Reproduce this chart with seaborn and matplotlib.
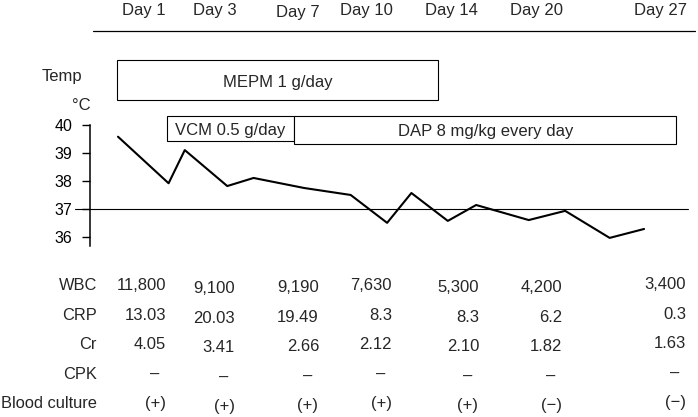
import matplotlib
matplotlib.use("Agg")
import matplotlib.pyplot as plt
import matplotlib.transforms as mtransforms
from matplotlib.patches import Rectangle
from matplotlib.lines import Line2D
import seaborn as sns

# body temperature course (hospital day, deg C)
temp_day = [1.0, 3.5, 4.3, 6.4, 7.7, 10.2, 12.5, 14.3, 15.5, 17.3, 18.7, 21.3, 23.1, 25.3, 27.0]
temp_c = [39.58, 37.91, 39.10, 37.81, 38.10, 37.74, 37.49, 36.49, 37.56, 36.56, 37.13, 36.59, 36.92, 35.95, 36.27]

# antibiotics given (start / end day)
drug_names = ["MEPM 1 g/day", "VCM 0.5 g/day", "DAP 8 mg/kg every day"]
drug_start = [0.97, 3.4, 9.7]
drug_end = [16.8, 9.7, 28.6]

# lab table
days = ["Day 1", "Day 3", "Day 7", "Day 10", "Day 14", "Day 20", "Day 27"]
lab_rows = ["WBC", "CRP", "Cr", "CPK", "Blood culture"]
wbc = ["11,800", "9,100", "9,190", "7,630", "5,300", "4,200", "3,400"]
crp = ["13.03", "20.03", "19.49", "8.3", "8.3", "6.2", "0.3"]
cr = ["4.05", "3.41", "2.66", "2.12", "2.10", "1.82", "1.63"]
cpk = ["\u2013"] * 7
blood = ["(+)", "(+)", "(+)", "(+)", "(+)", "(\u2212)", "(\u2212)"]
lab_values = [wbc, crp, cr, cpk, blood]

sns.set_theme(style="white")
plt.rcParams["font.family"] = ["Liberation Sans", "DejaVu Sans"]
FS = 12

W, H = 698, 417
def fx(px):
    return px / W
def fy(py):
    return 1 - py / H

fig = plt.figure(figsize=(W / 100, H / 100), dpi=100)
fig.patch.set_facecolor("white")

# temperature panel
ax = fig.add_axes([fx(90), fy(245.7), 600 / W, 120.7 / H])
ax.patch.set_visible(False)
sns.lineplot(x=temp_day, y=temp_c, color="black", linewidth=1.5, ax=ax)
ax.set_xlim(-0.384, 29.27)
ax.set_ylim(35.67, 40)
ax.set_yticks([36, 37, 38, 39, 40])
ax.set_xticks([])
ax.set_xlabel("")
ax.set_ylabel("")
for s in ["top", "right", "bottom"]:
    ax.spines[s].set_visible(False)
ax.spines["left"].set_color("black")
ax.spines["left"].set_linewidth(1.1)
ax.tick_params(axis="y", left=True, direction="out", length=5.8, width=1.0,
               color="black", pad=6.7, labelsize=11.5, labelcolor="black")
ax.axhline(37, xmin=-0.025, xmax=0.997, color="black", linewidth=0.8, clip_on=False)

# drug boxes: x in days, y in figure
trans = mtransforms.blended_transform_factory(ax.transData, fig.transFigure)
box_top = [60, 115.7, 115.7]
box_bottom = [100, 141, 144]
text_mid = [82.5, 130, 131.5]
for name, s, e, t, b, m in zip(drug_names, drug_start, drug_end, box_top, box_bottom, text_mid):
    ax.add_patch(Rectangle((s, fy(b)), e - s, fy(t) - fy(b), transform=trans,
                           facecolor="white", edgecolor="black", linewidth=0.8,
                           clip_on=False, zorder=3))
    ax.text((s + e) / 2, fy(m), name, transform=trans, ha="center", va="center",
            fontsize=FS, zorder=4)

fig.text(fx(62), fy(76), "Temp", ha="center", va="center", fontsize=FS)
fig.text(fx(81), fy(105), "\u00b0C", ha="center", va="center", fontsize=FS)

# header with days
day_x = [144, 215, 298, 366, 451, 536, 660]
day_base = [15, 15, 17, 15, 15, 15, 15]
for d, x, b in zip(days, day_x, day_base):
    fig.text(fx(x), fy(b), d, ha="center", va="baseline", fontsize=FS)
fig.add_artist(Line2D([fx(93), fx(695)], [fy(31), fy(31)], color="black", linewidth=0.9))

# lab table
col_right = [166, 235, 319, 392, 479, 562, 686]
col_dy = [0, 3, 2, 0, 2, 2, -1]
row_base = [290, 320, 349, 379, 408]
for r, (lab, vals) in enumerate(zip(lab_rows, lab_values)):
    fig.text(fx(97), fy(row_base[r]), lab, ha="right", va="baseline", fontsize=11.8)
    for c, v in enumerate(vals):
        y = fy(row_base[r] + col_dy[c])
        if r < 3:
            fig.text(fx(col_right[c]), y, v, ha="right", va="baseline", fontsize=FS)
        else:
            fig.text(fx(col_right[c] - 11), y, v, ha="center", va="baseline", fontsize=FS)

fig.savefig("out.png", dpi=100)
